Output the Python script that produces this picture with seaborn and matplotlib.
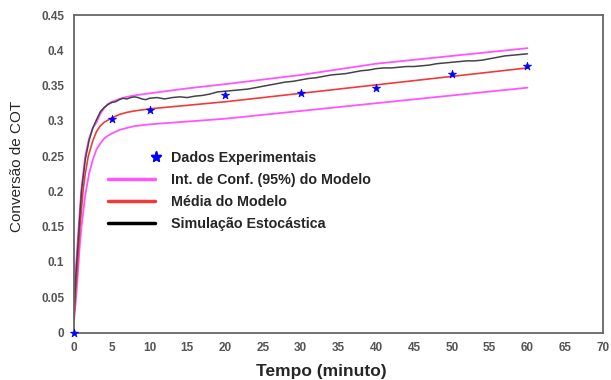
import numpy as np
import pandas as pd
import matplotlib
matplotlib.use("Agg")
import matplotlib.pyplot as plt
import seaborn as sns
from matplotlib.lines import Line2D
from matplotlib.legend_handler import HandlerLine2D

# ---- data ----
t_data = [0, 5, 10, 20, 30, 40, 50, 60]
y_data = [0.0, 0.302, 0.315, 0.336, 0.340, 0.346, 0.366, 0.378]

t_model = [0, 0.25, 0.5, 0.8, 1.2, 1.5, 1.9, 2.5, 3, 3.5, 4, 4.5, 5, 6, 7, 8, 9, 10, 15, 20, 30, 40, 50, 60]
y_mean = [0.02, 0.06, 0.10, 0.15, 0.20, 0.225, 0.25, 0.272, 0.285, 0.293, 0.298, 0.301, 0.304,
          0.309, 0.312, 0.314, 0.3155, 0.317, 0.322, 0.327, 0.339, 0.351, 0.363, 0.375]

t_ci = [0, 0.25, 0.5, 0.75, 1.0, 1.5, 2.0, 2.5, 3.0, 3.5, 4.0, 4.5, 5, 6, 7, 8, 10, 15, 20, 30, 40, 50, 60]
y_upper = [0.03, 0.09, 0.13, 0.17, 0.205, 0.25, 0.275, 0.29, 0.298, 0.31, 0.318, 0.324, 0.327,
           0.331, 0.334, 0.336, 0.339, 0.346, 0.352, 0.365, 0.381, 0.392, 0.403]
y_lower = [0.015, 0.045, 0.08, 0.12, 0.15, 0.195, 0.225, 0.245, 0.26, 0.268, 0.275, 0.279, 0.282,
           0.287, 0.29, 0.2925, 0.295, 0.299, 0.303, 0.314, 0.325, 0.336, 0.347]

t_sim = [0, 0.25, 0.5, 0.75, 1.0, 1.5, 2.0, 2.5, 3.0, 3.5, 4.0, 4.5, 5, 5.5, 6, 6.5, 7, 7.5, 8, 8.5,
         9, 9.5, 10, 11, 12, 13, 14, 15, 16, 17, 18, 19, 20, 21, 22, 23, 24, 25, 26, 27, 28, 29, 30,
         31, 32, 33, 34, 35, 36, 37, 38, 39, 40, 41, 42, 43, 44, 45, 46, 47, 48, 49, 50, 51, 52, 53,
         54, 55, 56, 57, 58, 59, 60]
y_sim = [0.02, 0.08, 0.12, 0.16, 0.20, 0.245, 0.272, 0.29, 0.302, 0.313, 0.319, 0.323, 0.326, 0.327,
         0.330, 0.332, 0.331, 0.333, 0.334, 0.333, 0.331, 0.330, 0.332, 0.333, 0.331, 0.333, 0.334,
         0.333, 0.335, 0.336, 0.338, 0.341, 0.342, 0.343, 0.344, 0.345, 0.347, 0.349, 0.351, 0.353,
         0.355, 0.356, 0.358, 0.360, 0.361, 0.363, 0.365, 0.366, 0.367, 0.369, 0.371, 0.372, 0.374,
         0.375, 0.375, 0.376, 0.377, 0.377, 0.378, 0.379, 0.381, 0.382, 0.383, 0.384, 0.385, 0.385,
         0.386, 0.388, 0.390, 0.392, 0.393, 0.394, 0.395]

x_ticks = list(range(0, 71, 5))
y_ticks = [0, 0.05, 0.1, 0.15, 0.2, 0.25, 0.3, 0.35, 0.4, 0.45]
y_tick_labels = ["0", "0.05", "0.1", "0.15", "0.2", "0.25", "0.3", "0.35", "0.4", "0.45"]

labels = ["Dados Experimentais", "Int. de Conf. (95%) do Modelo", "Média do Modelo", "Simulação Estocástica"]

# ---- style ----
sns.set_style("white")
plt.rcParams['font.family'] = ['Liberation Sans', 'DejaVu Sans']

PINK = "#ff55ff"
RED = "#f23a3a"
SIMC = "#444444"
BLUE = "#0000ff"
GRAY = "#555555"

fig = plt.figure(figsize=(6.11, 3.80), dpi=100)
ax = fig.add_axes([0.121, 0.125, 0.866, 0.8355])

sns.lineplot(x=t_ci, y=y_upper, ax=ax, color=PINK, lw=1.3)
sns.lineplot(x=t_ci, y=y_lower, ax=ax, color=PINK, lw=1.3)
sns.lineplot(x=t_model, y=y_mean, ax=ax, color=RED, lw=1.2)
sns.lineplot(x=t_sim, y=y_sim, ax=ax, color=SIMC, lw=1.1)
sns.scatterplot(x=t_data, y=y_data, ax=ax, color=BLUE, marker="*", s=38, edgecolor=BLUE,
                linewidth=0.5, zorder=5, clip_on=False)

ax.set_xlim(0, 70)
ax.set_ylim(0, 0.45)
ax.set_xticks(x_ticks)
ax.set_xticklabels([str(v) for v in x_ticks])
ax.set_yticks(y_ticks)
ax.set_yticklabels(y_tick_labels)

for sp in ax.spines.values():
    sp.set_visible(True)
    sp.set_color("#666666")
    sp.set_linewidth(1.3)
ax.tick_params(axis="both", direction="out", length=4, width=1.2, color="#666666",
               labelsize=8.5, labelcolor=GRAY, pad=3)
for lab in ax.get_xticklabels() + ax.get_yticklabels():
    lab.set_fontweight("bold")

ax.set_xlabel("Tempo (minuto)", fontsize=12.5, fontweight="bold")
ax.xaxis.set_label_coords(0.467, -0.100)
ax.set_ylabel("Conversão de COT", fontsize=11)
ax.yaxis.set_label_coords(-0.094, 0.524)


class StarRight(HandlerLine2D):
    def get_xdata(self, legend, xdescent, ydescent, width, height, fontsize):
        x = -xdescent + 1.03 * width
        return np.array([x, x]), np.array([x, x])


handles = [
    Line2D([], [], color=BLUE, marker="*", linestyle="none", markersize=8),
    Line2D([], [], color=PINK, lw=2.5),
    Line2D([], [], color=RED, lw=2.5),
    Line2D([], [], color="black", lw=2.5),
]
leg = ax.legend(handles, labels, loc="upper left", bbox_to_anchor=(0.064, 0.572), frameon=False,
                borderaxespad=0, borderpad=0,
                handlelength=3.3, handletextpad=1.1, labelspacing=0.57,
                prop={"weight": "bold", "size": 10.3},
                handler_map={handles[0]: StarRight(numpoints=2)})

fig.savefig("out.png", dpi=100)
